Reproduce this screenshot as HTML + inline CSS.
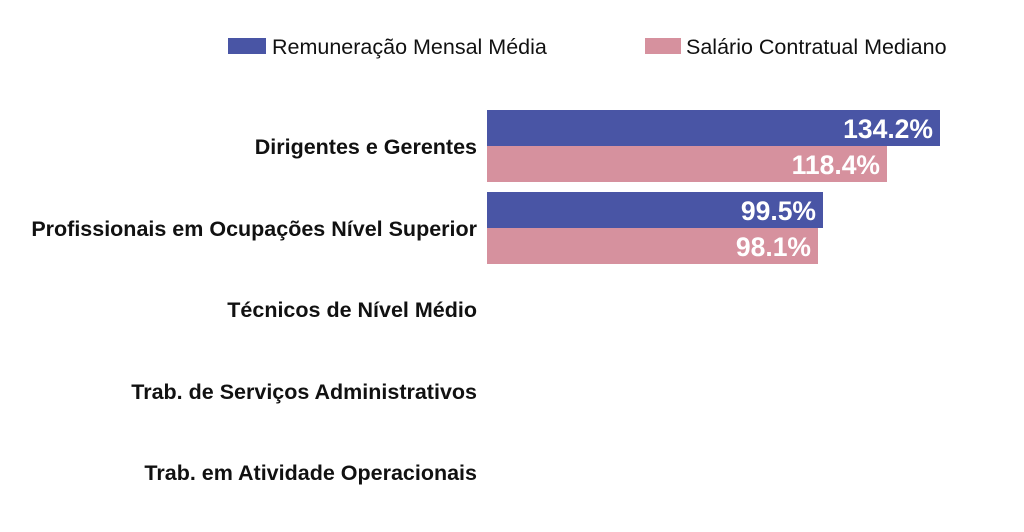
<!DOCTYPE html>
<html><head><meta charset="utf-8"><style>
body{margin:0;background:#fff;width:1024px;height:527px;overflow:hidden}
svg text{font-family:"Liberation Sans",sans-serif}
</style></head><body>
<svg width="1024" height="527" xmlns="http://www.w3.org/2000/svg">
<rect x="228" y="38" width="38" height="16" fill="#4955a5"/>
<text x="272" y="54" font-size="21.5" fill="#111">Remuneração Mensal Média</text>
<rect x="645" y="38" width="36" height="16" fill="#d6919e"/>
<text x="686" y="54" font-size="21.5" fill="#111">Salário Contratual Mediano</text>
<rect x="487" y="110" width="453" height="36" fill="#4955a5"/>
<rect x="487" y="146" width="400" height="36" fill="#d6919e"/>
<rect x="487" y="192" width="336" height="36" fill="#4955a5"/>
<rect x="487" y="228" width="331" height="36" fill="#d6919e"/>
<g font-size="26.5" font-weight="bold" fill="#fff" text-anchor="end">
<text x="933" y="138">134.2%</text>
<text x="880" y="174">118.4%</text>
<text x="816" y="220">99.5%</text>
<text x="811" y="256">98.1%</text>
</g>
<g font-size="21.5" font-weight="bold" fill="#111" text-anchor="end">
<text x="477" y="154">Dirigentes e Gerentes</text>
<text x="477" y="236">Profissionais em Ocupações Nível Superior</text>
<text x="477" y="317">Técnicos de Nível Médio</text>
<text x="477" y="399">Trab. de Serviços Administrativos</text>
<text x="477" y="480">Trab. em Atividade Operacionais</text>
</g>
</svg>
</body></html>
